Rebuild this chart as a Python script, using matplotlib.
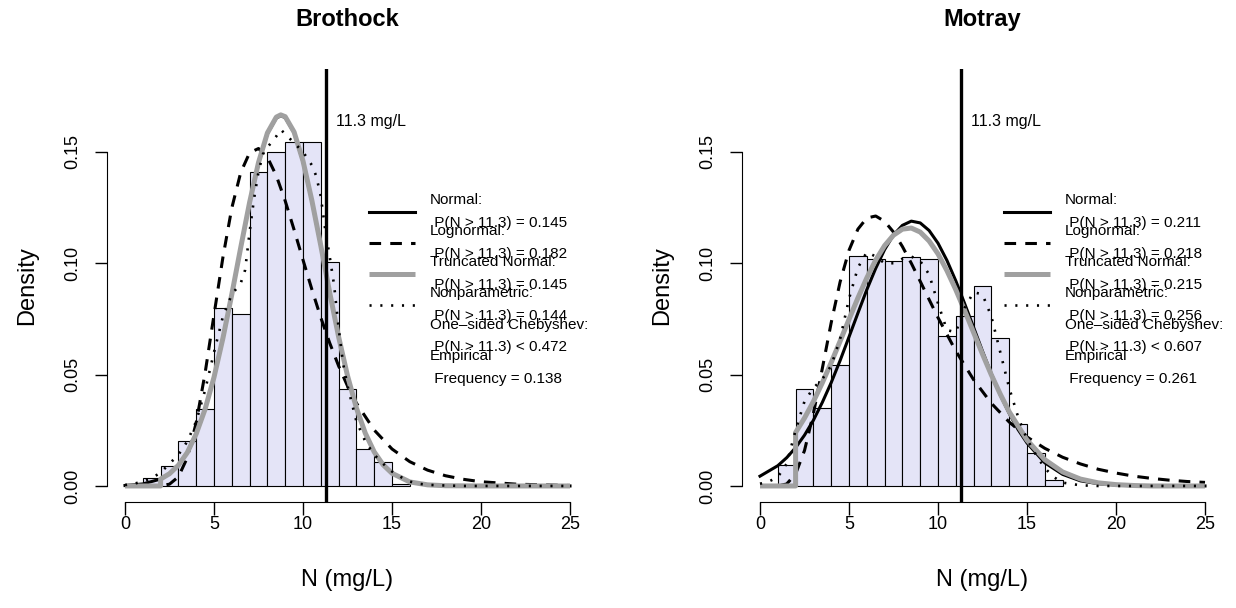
import numpy as np
import matplotlib.pyplot as plt
from matplotlib.lines import Line2D

plt.rcParams['font.family'] = ['Liberation Sans', 'DejaVu Sans']

# ---- Brothock ----
b_bin_left = [1, 2, 3, 4, 5, 6, 7, 8, 9, 10, 11, 12, 13, 14, 15]
b_density = [0.0037, 0.0091, 0.0203, 0.0346, 0.0801, 0.0772, 0.1408, 0.1500,
             0.1543, 0.1545, 0.1007, 0.0434, 0.0165, 0.0109, 0.0008]

b_norm_x = [0, 1, 2, 2.5, 3, 3.5, 4, 4.5, 5, 5.5, 6, 6.5, 7, 7.5, 8, 8.5, 8.75,
            9, 9.5, 10, 10.5, 11, 11.5, 12, 12.5, 13, 13.5, 14, 14.5, 15,
            16, 17, 18, 20, 25]
b_norm_y = [0.0002, 0.0009, 0.0031, 0.0055, 0.0093, 0.0150, 0.0233, 0.0344,
            0.0487, 0.0661, 0.0858, 0.1067, 0.1270, 0.1448, 0.1581, 0.1652,
            0.1662, 0.1654, 0.1585, 0.1455, 0.1278, 0.1076, 0.0866, 0.0668,
            0.0494, 0.0349, 0.0236, 0.0153, 0.0095, 0.0057, 0.0018, 0.0005,
            0.0001, 0.0, 0.0]

b_trunc_x = [0, 2, 2, 2.5, 3, 3.5, 4, 4.5, 5, 5.5, 6, 6.5, 7, 7.5, 8, 8.5, 8.75,
             9, 9.5, 10, 10.5, 11, 11.5, 12, 12.5, 13, 13.5, 14, 14.5, 15,
             16, 17, 18, 20, 25]
b_trunc_y = [0.0, 0.0, 0.0031, 0.0055, 0.0093, 0.0150, 0.0234, 0.0345,
             0.0488, 0.0663, 0.0860, 0.1070, 0.1273, 0.1452, 0.1585, 0.1656,
             0.1666, 0.1658, 0.1589, 0.1459, 0.1281, 0.1079, 0.0868, 0.0670,
             0.0495, 0.0350, 0.0237, 0.0153, 0.0095, 0.0057, 0.0018, 0.0005,
             0.0001, 0.0, 0.0]

b_lnorm_x = [0, 1, 2, 2.5, 3, 3.5, 4, 4.5, 5, 5.5, 6, 6.5, 7, 7.5, 8, 8.5, 9,
             9.5, 10, 10.5, 11, 11.5, 12, 12.5, 13, 14, 15, 16, 17, 18, 19, 20,
             22, 25]
b_lnorm_y = [0.0, 0.0, 0.0001, 0.0008, 0.0041, 0.0127, 0.0284, 0.0507, 0.0768,
             0.1026, 0.1248, 0.1407, 0.1496, 0.1515, 0.1476, 0.1393, 0.1280,
             0.1150, 0.1015, 0.0882, 0.0756, 0.0642, 0.0539, 0.0449, 0.0372,
             0.0251, 0.0166, 0.0109, 0.0071, 0.0046, 0.0030, 0.0019, 0.0008,
             0.0002]

b_kde_x = [0, 0.5, 1, 1.5, 2, 2.5, 3, 3.5, 4, 4.5, 5, 5.5, 6, 6.5, 6.75, 7,
           7.25, 7.5, 7.75, 8, 8.5, 8.75, 9, 9.5, 10, 10.5, 10.75, 11, 11.25,
           11.5, 11.75, 12, 12.25, 12.5, 13, 13.5, 14, 14.5, 15, 15.5, 16,
           16.5, 17, 18, 19, 25]
b_kde_y = [0.0004, 0.001, 0.002, 0.0035, 0.006, 0.010, 0.014, 0.020, 0.029,
           0.043, 0.060, 0.076, 0.086, 0.091, 0.097, 0.114, 0.129, 0.141,
           0.149, 0.152, 0.157, 0.160, 0.158, 0.154, 0.150, 0.144, 0.139,
           0.130, 0.115, 0.103, 0.090, 0.071, 0.055, 0.045, 0.029, 0.020,
           0.014, 0.010, 0.0065, 0.004, 0.002, 0.001, 0.0005, 0.0002, 0.0, 0.0]

b_probs = ['0.145', '0.182', '0.145', '0.144', '0.472', '0.138']

# ---- Motray ----
m_bin_left = [1, 2, 3, 4, 5, 6, 7, 8, 9, 10, 11, 12, 13, 14, 15, 16]
m_density = [0.0092, 0.0435, 0.0352, 0.0545, 0.1033, 0.1019, 0.1010, 0.1026,
             0.1018, 0.0673, 0.0764, 0.0898, 0.0666, 0.0277, 0.0147, 0.0027]

m_norm_x = [0, 1, 1.5, 2, 2.5, 3, 3.5, 4, 4.5, 5, 5.5, 6, 6.5, 7, 7.5, 8, 8.5,
            9, 9.5, 10, 10.5, 11, 11.5, 12, 12.5, 13, 13.5, 14, 14.5, 15, 16,
            17, 18, 19, 20, 21, 22, 25]
m_norm_y = [0.0044, 0.0091, 0.0127, 0.0172, 0.0228, 0.0295, 0.0375, 0.0464,
            0.0563, 0.0669, 0.0776, 0.0881, 0.0977, 0.1061, 0.1127, 0.1170,
            0.1189, 0.1181, 0.1147, 0.1090, 0.1013, 0.0921, 0.0818, 0.0712,
            0.0605, 0.0503, 0.0409, 0.0326, 0.0253, 0.0193, 0.0104, 0.0052,
            0.0023, 0.0010, 0.0004, 0.0001, 0.0, 0.0]

m_trunc_x = [0, 2, 2, 2.5, 3, 3.5, 4, 4.5, 5, 5.5, 6, 6.5, 7, 7.5, 8, 8.5, 9,
             9.5, 10, 10.5, 11, 11.5, 12, 12.5, 13, 13.5, 14, 15, 16, 17, 18,
             19, 20, 21, 22, 25]
m_trunc_y = [0.0, 0.0, 0.0240, 0.0305, 0.0379, 0.0463, 0.0554, 0.0650, 0.0748,
             0.0844, 0.0934, 0.1014, 0.1079, 0.1126, 0.1153, 0.1158, 0.1140,
             0.1100, 0.1042, 0.0967, 0.0881, 0.0787, 0.0689, 0.0592, 0.0498,
             0.0412, 0.0333, 0.0206, 0.0118, 0.0063, 0.0031, 0.0014, 0.0006,
             0.0002, 0.0, 0.0]

m_lnorm_x = [0, 1, 1.5, 2, 2.5, 3, 3.5, 4, 4.5, 5, 5.5, 6, 6.5, 7, 7.5, 8, 8.5,
             9, 9.5, 10, 11, 12, 13, 14, 15, 16, 17, 18, 19, 20, 21, 22, 23,
             24, 25]
m_lnorm_y = [0.0, 0.0, 0.0009, 0.0054, 0.0159, 0.0325, 0.0527, 0.0733, 0.0916,
             0.1058, 0.1153, 0.1203, 0.1212, 0.1188, 0.1140, 0.1075, 0.1000,
             0.0919, 0.0837, 0.0756, 0.0606, 0.0477, 0.0371, 0.0287, 0.0220,
             0.0169, 0.0129, 0.0099, 0.0075, 0.0058, 0.0044, 0.0034, 0.0026,
             0.0020, 0.0016]

m_kde_x = [0, 0.5, 1, 1.5, 2, 2.5, 3, 3.5, 4, 4.5, 5, 5.5, 6, 6.5, 7, 7.5, 8,
           8.5, 9, 9.5, 10, 10.5, 11, 11.5, 12, 12.5, 13, 13.5, 14, 14.5, 15,
           15.5, 16, 16.5, 17, 18, 19, 25]
m_kde_y = [0.001, 0.002, 0.004, 0.010, 0.025, 0.038, 0.044, 0.048, 0.054,
           0.066, 0.084, 0.098, 0.105, 0.103, 0.100, 0.100, 0.102, 0.103,
           0.101, 0.095, 0.082, 0.070, 0.069, 0.080, 0.087, 0.086, 0.076,
           0.060, 0.044, 0.031, 0.021, 0.014, 0.008, 0.004, 0.0015, 0.0003,
           0.0, 0.0]

m_probs = ['0.211', '0.218', '0.215', '0.256', '0.607', '0.261']

threshold = 11.3

GREY = '#a0a0a0'
FILL = '#e4e4f7'

W, H = 1236, 608
fig = plt.figure(figsize=(W / 100, H / 100), dpi=100)


def panel(left_px, title, bins, dens, nx, ny, tx, ty, lx, ly, kx, ky, probs):
    ax = fig.add_axes([left_px / W, (H - 502) / H, 480.6 / W, 433 / H])
    ax.bar(bins, dens, width=1, align='edge', color=FILL,
           edgecolor='black', linewidth=0.8, zorder=1)
    l1, = ax.plot(nx, ny, color='black', lw=2.2, zorder=2)
    l2, = ax.plot(lx, ly, color='black', lw=2.2, dashes=(3.8, 3.0), zorder=3)
    l3, = ax.plot(tx, ty, color=GREY, lw=3.6, solid_capstyle='butt', zorder=4)
    l4, = ax.plot(kx, ky, color='black', lw=1.9, dashes=(0.8, 3.3), zorder=5)
    ax.axvline(threshold, color='black', lw=2.4, zorder=6)
    ax.text(11.85, 0.1635, '11.3 mg/L', fontsize=11.5, ha='left', va='center')

    blank = Line2D([], [], color='none')
    labels = ['Normal:\n P(N > 11.3) = ' + probs[0],
              'Lognormal:\n P(N > 11.3) = ' + probs[1],
              'Truncated Normal:\n P(N > 11.3) = ' + probs[2],
              'Nonparametric:\n P(N > 11.3) = ' + probs[3],
              'One\u2013sided Chebyshev:\n P(N > 11.3) < ' + probs[4],
              'Empirical\n Frequency = ' + probs[5]]
    leg = ax.legend([l1, l2, l3, l4, blank, blank], labels, loc='upper left',
                    bbox_to_anchor=(0.545, 0.7136), frameon=False, fontsize=11,
                    handlelength=3.0, handletextpad=1.0, labelspacing=-0.37,
                    borderpad=0, borderaxespad=0)
    for t in leg.get_texts():
        t.set_linespacing(1.8)

    ax.set_xlim(-1, 26)
    ax.set_ylim(-0.0072, 0.1872)
    ax.set_xticks([0, 5, 10, 15, 20, 25])
    ax.set_yticks([0, 0.05, 0.10, 0.15])
    ax.set_yticklabels(['0.00', '0.05', '0.10', '0.15'], rotation=90,
                       va='center')
    for s in ['top', 'right']:
        ax.spines[s].set_visible(False)
    ax.spines['left'].set_bounds(0, 0.15)
    ax.spines['bottom'].set_bounds(0, 25)
    ax.tick_params(length=9, width=1, labelsize=13)
    ax.tick_params(axis='x', pad=0.8)
    ax.tick_params(axis='y', pad=10)
    ax.set_xlabel('N (mg/L)', fontsize=17)
    ax.set_ylabel('Density', fontsize=17)
    ax.xaxis.set_label_coords(0.5, (502 - 580) / 433)
    ax.xaxis.label.set_va('center')
    ax.yaxis.set_label_coords((27 - 107.2) / 480.6, 0.5)
    ax.yaxis.label.set_va('center')
    fig.text((left_px + 240.3) / W, 1 - 19.5 / H, title, fontsize=17,
             fontweight='bold', ha='center', va='center')
    return ax


panel(107.2, 'Brothock', b_bin_left, b_density, b_norm_x, b_norm_y,
      b_trunc_x, b_trunc_y, b_lnorm_x, b_lnorm_y, b_kde_x, b_kde_y, b_probs)
panel(742.2, 'Motray', m_bin_left, m_density, m_norm_x, m_norm_y,
      m_trunc_x, m_trunc_y, m_lnorm_x, m_lnorm_y, m_kde_x, m_kde_y, m_probs)

fig.savefig('out.png', dpi=100)
